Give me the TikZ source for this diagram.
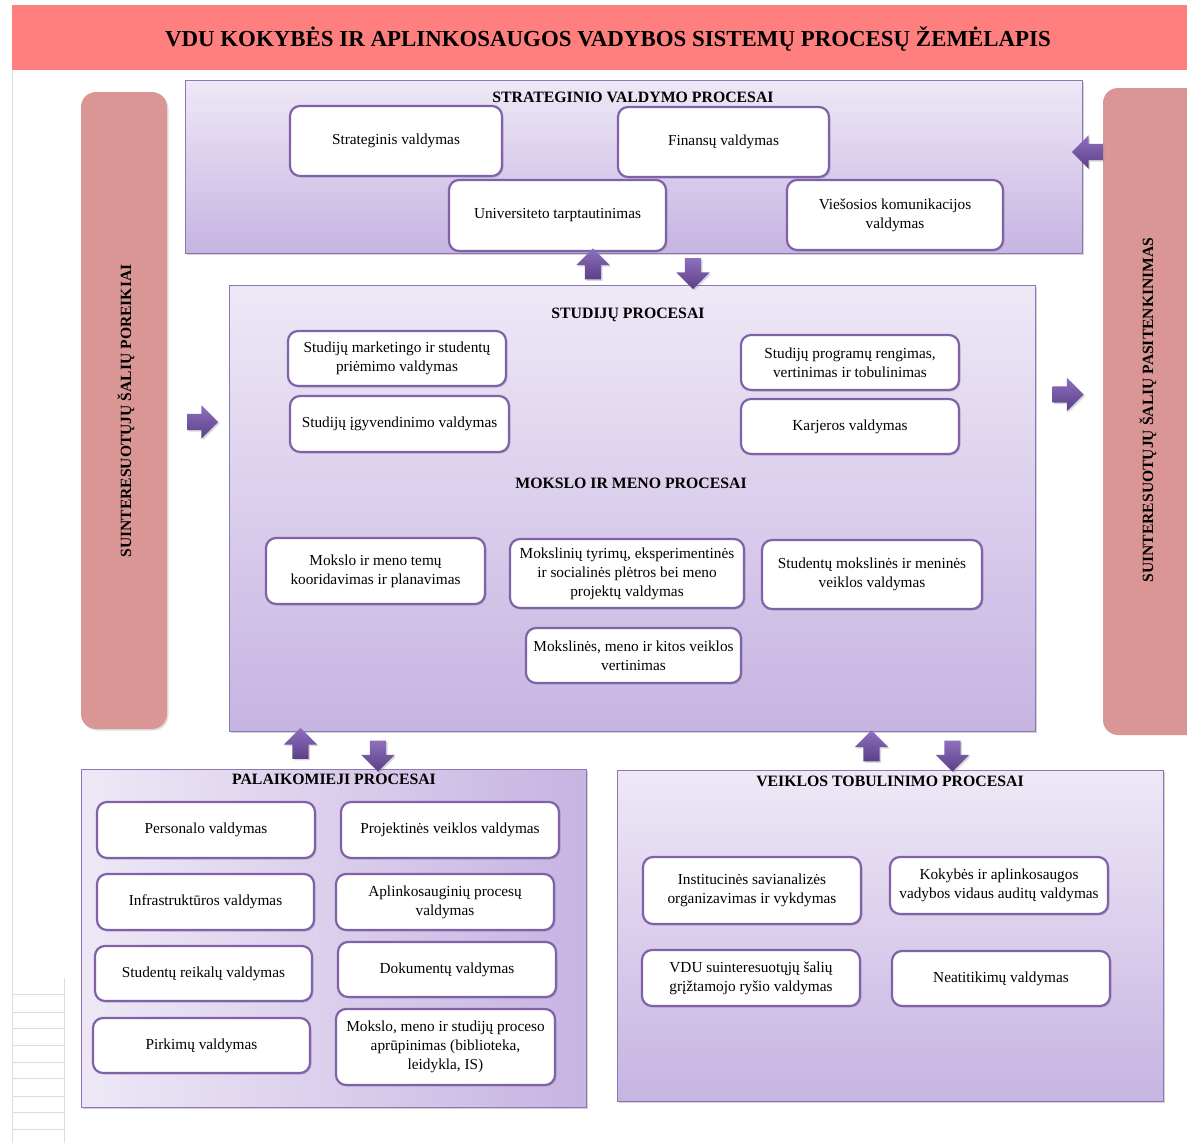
\documentclass[tikz,border=0pt]{standalone}
\usepackage{fontspec}
\setmainfont{Liberation Serif}
\usetikzlibrary{shapes.arrows,shadows}
\definecolor{band}{HTML}{FF7F7F}
\definecolor{pinkbar}{HTML}{DA9694}
\definecolor{clight}{HTML}{EEE8F6}
\definecolor{cdark}{HTML}{C6B4E2}
\definecolor{frame}{HTML}{8E76B6}
\definecolor{boxline}{HTML}{7F62A8}
\definecolor{arlight}{HTML}{8E6FBE}
\definecolor{ardark}{HTML}{5B4088}
\definecolor{gridc}{HTML}{DDDDDD}
\tikzset{
  procbox/.style={draw=boxline, line width=2.2pt, rounded corners=10pt, fill=white,
    align=center, inner sep=2pt, font=\fontsize{15.3}{19}\selectfont,
    drop shadow={shadow xshift=1.5pt, shadow yshift=-1.5pt, opacity=0.3}},
  container/.style={draw=frame, line width=1pt, top color=clight, bottom color=cdark,
    inner sep=0pt, drop shadow={shadow xshift=2pt, shadow yshift=-2pt, opacity=0.35}},
  hcontainer/.style={draw=frame, line width=1pt, left color=clight, right color=cdark,
    inner sep=0pt, drop shadow={shadow xshift=2pt, shadow yshift=-2pt, opacity=0.35}},
  sectitle/.style={font=\bfseries\fontsize{15.8}{18}\selectfont, inner sep=0pt},
  bartext/.style={font=\bfseries\fontsize{15.6}{18}\selectfont, rotate=90, inner sep=0pt},
  barrow/.style={single arrow, single arrow head extend=8.5pt, minimum width=33pt,
    minimum height=31pt, inner xsep=0pt, inner ysep=8pt, draw=none, top color=arlight, bottom color=ardark,
    drop shadow={shadow xshift=1.5pt, shadow yshift=-1.5pt, opacity=0.3}},
}
\newcommand\bx[6]{\node[procbox, minimum width={#4-#2}, minimum height={#5-#3}] (#1) at ({(#2+#4)/2},{(#3+#5)/2}) {#6};}
\newcommand\ctn[6]{\node[#6, minimum width={#4-#2}, minimum height={#5-#3}] (#1) at ({(#2+#4)/2},{(#3+#5)/2}) {};}
\begin{document}
\begin{tikzpicture}[x=1pt,y=-1pt]
\useasboundingbox (0,0) rectangle (1187,1143);
\fill[white] (0,0) rectangle (1187,1143);
% page border and grid remnants
\draw[gridc, line width=0.8pt] (12,70) -- (12,1143);
\draw[gridc, line width=0.8pt] (64,978) -- (64,1143);
\foreach \yy in {994,1012,1028,1045,1062,1078,1096,1112,1129}
  \draw[gridc, line width=0.8pt] (12,\yy) -- (64,\yy);
% title band
\node[fill=band, minimum width=1175, minimum height=65, inner sep=0pt] (band) at (599.5,37.5) {};
\node[font=\bfseries\fontsize{22.9}{26}\selectfont, inner sep=0pt] (title) at (608,39)
  {VDU KOKYBĖS IR APLINKOSAUGOS VADYBOS SISTEMŲ PROCESŲ ŽEMĖLAPIS};
% side bars
\node[fill=pinkbar, rounded corners=15pt, minimum width=86, minimum height=637, inner sep=0pt,
  drop shadow={shadow xshift=1.5pt, shadow yshift=-1.5pt, opacity=0.25}] (lbar) at (124,410.5) {};
\node[bartext] (ltext) at (126,411) {SUINTERESUOTŲJŲ ŠALIŲ POREIKIAI};
\begin{scope}
\clip (0,0) rectangle (1187,1143);
\node[fill=pinkbar, rounded corners=15pt, minimum width=110, minimum height=647, inner sep=0pt] (rbar) at (1158,411.5) {};
\end{scope}
\node[bartext] (rtext) at (1148,410) {SUINTERESUOTŲJŲ ŠALIŲ PASITENKINIMAS};
% containers
\ctn{strat}{185}{80}{1082}{253}{container}
\ctn{stud}{229}{285}{1035}{731}{container}
\ctn{pal}{81}{769}{586}{1107}{hcontainer}
\ctn{veik}{617}{770}{1163}{1101}{container}
\node[sectitle] (tstrat) at (633,97) {STRATEGINIO VALDYMO PROCESAI};
\node[sectitle] (tstud) at (628,315) {STUDIJŲ PROCESAI};
\node[sectitle] (tmoks) at (631,483) {MOKSLO IR MENO PROCESAI};
\node[sectitle] (tpal) at (334,779) {PALAIKOMIEJI PROCESAI};
\node[sectitle] (tveik) at (890,781) {VEIKLOS TOBULINIMO PROCESAI};
% strategic boxes
\bx{sv}{290}{106}{502}{176}{Strateginis valdymas}
\bx{fv}{618}{107}{829}{177}{Finansų valdymas}
\bx{ut}{449}{180}{666}{251}{Universiteto tarptautinimas}
\bx{vk}{787}{180}{1003}{250}{Viešosios komunikacijos\\valdymas}
% studies
\bx{s1}{288}{331}{506}{386}{Studijų marketingo ir studentų\\priėmimo valdymas}
\bx{s2}{290}{396}{509}{452}{Studijų įgyvendinimo valdymas}
\bx{s3}{741}{335}{959}{390}{Studijų programų rengimas,\\vertinimas ir tobulinimas}
\bx{s4}{741}{399}{959}{454}{Karjeros valdymas}
\bx{m1}{266}{538}{485}{604}{Mokslo ir meno temų\\kooridavimas ir planavimas}
\bx{m2}{510}{539}{744}{608}{Mokslinių tyrimų, eksperimentinės\\ir socialinės plėtros bei meno\\projektų valdymas}
\bx{m3}{762}{540}{982}{609}{Studentų mokslinės ir meninės\\veiklos valdymas}
\bx{m4}{526}{628}{741}{683}{Mokslinės, meno ir kitos veiklos\\vertinimas}
% support
\bx{p1}{97}{802}{315}{858}{Personalo valdymas}
\bx{p2}{341}{802}{559}{858}{Projektinės veiklos valdymas}
\bx{p3}{97}{874}{314}{930}{Infrastruktūros valdymas}
\bx{p4}{336}{874}{554}{930}{Aplinkosauginių procesų\\valdymas}
\bx{p5}{95}{946}{312}{1001}{Studentų reikalų valdymas}
\bx{p6}{338}{942}{556}{997}{Dokumentų valdymas}
\bx{p7}{93}{1018}{310}{1073}{Pirkimų valdymas}
\bx{p8}{336}{1009}{555}{1085}{Mokslo, meno ir studijų proceso\\aprūpinimas (biblioteka,\\leidykla, IS)}
% improvement
\bx{v1}{643}{857}{861}{924}{Institucinės savianalizės\\organizavimas ir vykdymas}
\bx{v2}{890}{857}{1108}{914}{Kokybės ir aplinkosaugos\\vadybos vidaus auditų valdymas}
\bx{v3}{642}{950}{860}{1006}{VDU suinteresuotųjų šalių\\grįžtamojo ryšio valdymas}
\bx{v4}{892}{951}{1110}{1006}{Neatitikimų valdymas}
% block arrows
\node[barrow, rotate=90] (a1) at (593,268) {};
\node[barrow, rotate=-90] (a2) at (693,269.5) {};
\node[barrow, rotate=180] (a3) at (1091.5,152) {};
\node[barrow] (a4) at (198.5,422) {};
\node[barrow] (a5) at (1064,394.5) {};
\node[barrow, rotate=90] (a6) at (300.5,747.5) {};
\node[barrow, rotate=-90] (a7) at (378,752) {};
\node[barrow, rotate=90] (a8) at (871.5,750) {};
\node[barrow, rotate=-90] (a9) at (952.5,752) {};
\end{tikzpicture}
\end{document}
